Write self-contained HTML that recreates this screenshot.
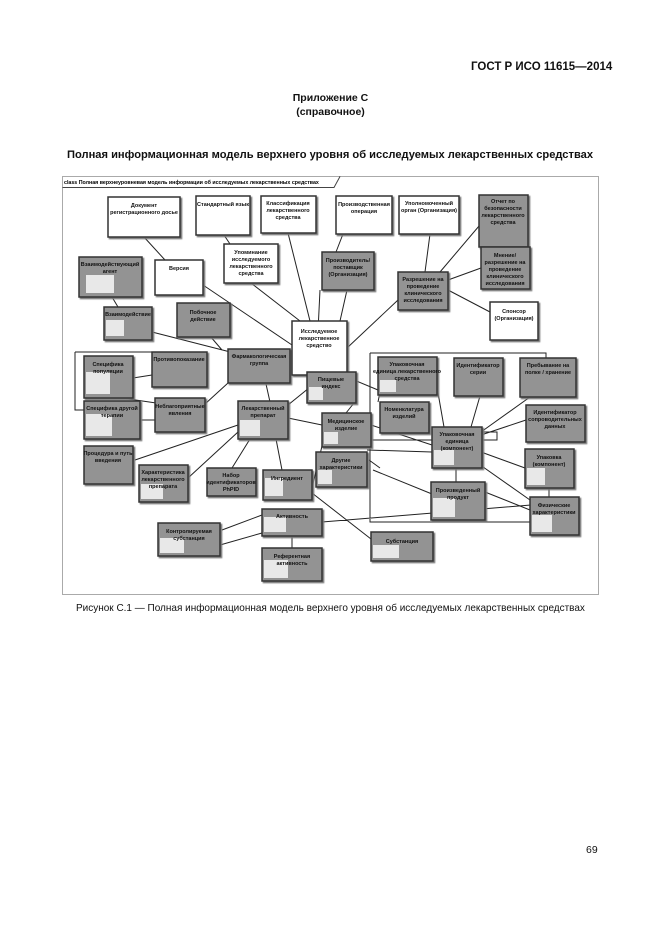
<!DOCTYPE html>
<html><head><meta charset="utf-8"><style>
body{margin:0;background:#fff;}
.pg{position:relative;width:661px;height:936px;background:#fff;font-family:"Liberation Sans",sans-serif;color:#111;overflow:hidden}
.t{position:absolute;white-space:nowrap}
</style></head><body><div class="pg">
<div class="t" style="left:471px;top:61px;font-size:11.5px;font-weight:bold">ГОСТ Р ИСО 11615—2014</div>
<div class="t" style="left:0;width:661px;text-align:center;top:91px;font-size:10.5px;font-weight:bold;line-height:14px">Приложение С<br>(справочное)</div>
<div class="t" style="left:67px;top:149px;font-size:11.3px;font-weight:bold;transform-origin:0 0;transform:scaleX(0.985)">Полная информационная модель верхнего уровня об исследуемых лекарственных средствах</div>
<div class="t" style="left:76px;top:603px;font-size:10.3px;transform-origin:0 0;transform:scaleX(0.97)">Рисунок С.1 — Полная информационная модель верхнего уровня об исследуемых лекарственных средствах</div>
<div class="t" style="left:586px;top:844px;font-size:10.5px">69</div>
<svg width="661" height="936" style="position:absolute;left:0;top:0" font-family="Liberation Sans, sans-serif" font-size="5.5" font-weight="bold" text-anchor="middle">
<defs><filter id="sh" x="-10%" y="-10%" width="130%" height="130%"><feDropShadow dx="1.5" dy="1.5" stdDeviation="0.4" flood-color="#777"/></filter></defs>
<rect x="62.5" y="176.5" width="536" height="418" fill="none" stroke="#555" stroke-dasharray="1 1"/>
<path d="M62.5 187.5H334l6-11" fill="none" stroke="#444"/>
<text x="64" y="184" text-anchor="start" font-size="5.3">class Полная верхнеуровневая модель информации об исследуемых лекарственных средствах</text>
<g stroke="#222" stroke-width="1" fill="none">
<path d="M144 237L165 260M224 235L230 244M288 233L310 321M251 283L300 321M203 285L292 345M343 234L336 252M347 290L340 321M320 290L316 372M430 234L425 272M112 297L118 307M152 332L246 356M210 336L222 350M133 378L152 375M140 420L155 420M122 398L163 404M205 404L228 383M264 375L270 402M325 375L288 405M135 460L238 425M188 478L238 432M232 468L250 439M276 439L282 470M288 418L322 425M312 488L322 446M312 493L371 539M262 515L222 530M220 545L262 533M292 536L292 548M322 522L531 505M347 348L398 300M496 206L440 272M481 268L448 280M448 290L490 312M368 440L432 440M371 425L432 445M367 450L432 452M354 403L346 413M437 387L444 427M480 396L471 427M530 397L481 432M526 420L481 435M525 468L481 452M530 500L476 462M456 467L456 482M485 492L530 510M549 487L549 497M373 470L432 494M369 460L380 468M370 353H546V358M370 353V522H530M378 402L380 392M342 375L378 390M75 352V410H84M75 352H152"/>
<rect x="481" y="432" width="16" height="8"/>
</g>
<g stroke="#333" stroke-width="1.5" filter="url(#sh)">
<g fill="#fff">
<rect x="108" y="197" width="72" height="40"/><rect x="196" y="196" width="54" height="39"/><rect x="261" y="196" width="55" height="37"/><rect x="336" y="196" width="56" height="38"/><rect x="399" y="196" width="60" height="38"/><rect x="224" y="244" width="54" height="39"/><rect x="155" y="260" width="48" height="35"/><rect x="490" y="302" width="48" height="38"/><rect x="292" y="321" width="55" height="54"/>
</g>
<g fill="#939393">
<rect x="479" y="195" width="49" height="52"/><rect x="79" y="257" width="63" height="40"/><rect x="322" y="252" width="52" height="38"/><rect x="398" y="272" width="50" height="38"/><rect x="481" y="247" width="49" height="42"/><rect x="104" y="307" width="48" height="33"/><rect x="177" y="303" width="53" height="34"/><rect x="228" y="349" width="62" height="34"/><rect x="152" y="352" width="55" height="35"/><rect x="84" y="356" width="49" height="42"/><rect x="84" y="401" width="56" height="38"/><rect x="155" y="398" width="50" height="34"/><rect x="238" y="401" width="50" height="38"/><rect x="84" y="446" width="49" height="38"/><rect x="139" y="465" width="49" height="37"/><rect x="207" y="468" width="49" height="28"/><rect x="263" y="470" width="49" height="30"/><rect x="158" y="523" width="62" height="33"/><rect x="262" y="509" width="60" height="27"/><rect x="262" y="548" width="60" height="33"/><rect x="307" y="372" width="49" height="31"/><rect x="322" y="413" width="49" height="34"/><rect x="316" y="452" width="51" height="35"/><rect x="371" y="532" width="62" height="29"/><rect x="378" y="357" width="59" height="38"/><rect x="454" y="358" width="49" height="38"/><rect x="520" y="358" width="56" height="39"/><rect x="380" y="402" width="49" height="31"/><rect x="432" y="427" width="50" height="41"/><rect x="526" y="405" width="59" height="37"/><rect x="525" y="449" width="49" height="39"/><rect x="431" y="482" width="54" height="38"/><rect x="530" y="497" width="49" height="38"/>
</g></g>
<g fill="#e8e8e8">
<rect x="86" y="275" width="28" height="18"/><rect x="106" y="320" width="18" height="16"/><rect x="86" y="372" width="24" height="22"/><rect x="86" y="414" width="26" height="22"/><rect x="240" y="420" width="20" height="16"/><rect x="141" y="484" width="22" height="15"/><rect x="265" y="478" width="18" height="18"/><rect x="160" y="538" width="24" height="15"/><rect x="264" y="517" width="22" height="15"/><rect x="264" y="560" width="24" height="18"/><rect x="373" y="545" width="26" height="13"/><rect x="434" y="450" width="20" height="15"/><rect x="433" y="498" width="22" height="19"/><rect x="532" y="515" width="20" height="17"/><rect x="527" y="468" width="18" height="17"/><rect x="309" y="387" width="14" height="13"/><rect x="324" y="432" width="14" height="12"/><rect x="318" y="470" width="14" height="14"/><rect x="380" y="380" width="16" height="12"/>
</g>
<g fill="#111">
<text x="144" y="207">Документ</text><text x="144" y="214">регистрационного досье</text>
<text x="223" y="206">Стандартный язык</text>
<text x="288" y="205">Классификация</text><text x="288" y="212">лекарственного</text><text x="288" y="219">средства</text>
<text x="364" y="206">Производственная</text><text x="364" y="213">операция</text>
<text x="429" y="205">Уполномоченный</text><text x="429" y="212">орган (Организация)</text>
<text x="503" y="203">Отчет по</text><text x="503" y="210">безопасности</text><text x="503" y="217">лекарственного</text><text x="503" y="224">средства</text>
<text x="251" y="254">Упоминание</text><text x="251" y="261">исследуемого</text><text x="251" y="268">лекарственного</text><text x="251" y="275">средства</text>
<text x="179" y="270">Версия</text>
<text x="110" y="266">Взаимодействующий</text><text x="110" y="273">агент</text>
<text x="348" y="262">Производитель/</text><text x="348" y="269">поставщик</text><text x="348" y="276">(Организация)</text>
<text x="423" y="281">Разрешение на</text><text x="423" y="288">проведение</text><text x="423" y="295">клинического</text><text x="423" y="302">исследования</text>
<text x="505" y="257">Мнение/</text><text x="505" y="264">разрешение на</text><text x="505" y="271">проведение</text><text x="505" y="278">клинического</text><text x="505" y="285">исследования</text>
<text x="514" y="313">Спонсор</text><text x="514" y="320">(Организация)</text>
<text x="128" y="316">Взаимодействие</text>
<text x="203" y="314">Побочное</text><text x="203" y="321">действие</text>
<text x="319" y="333">Исследуемое</text><text x="319" y="340">лекарственное</text><text x="319" y="347">средство</text>
<text x="259" y="358">Фармакологическая</text><text x="259" y="365">группа</text>
<text x="179" y="361">Противопоказание</text>
<text x="108" y="366">Специфика</text><text x="108" y="373">популяции</text>
<text x="112" y="410">Специфика другой</text><text x="112" y="417">терапии</text>
<text x="180" y="408">Неблагоприятные</text><text x="180" y="415">явления</text>
<text x="263" y="410">Лекарственный</text><text x="263" y="417">препарат</text>
<text x="108" y="455">Процедура и путь</text><text x="108" y="462">введения</text>
<text x="163" y="474">Характеристика</text><text x="163" y="481">лекарственного</text><text x="163" y="488">препарата</text>
<text x="231" y="477">Набор</text><text x="231" y="484">идентификаторов</text><text x="231" y="491">PhPID</text>
<text x="287" y="480">Ингредиент</text>
<text x="189" y="533">Контролируемая</text><text x="189" y="540">субстанция</text>
<text x="292" y="518">Активность</text>
<text x="292" y="558">Референтная</text><text x="292" y="565">активность</text>
<text x="331" y="381">Пищевые</text><text x="331" y="388">индекс</text>
<text x="346" y="423">Медицинское</text><text x="346" y="430">изделие</text>
<text x="341" y="462">Другие</text><text x="341" y="469">характеристики</text>
<text x="402" y="543">Субстанция</text>
<text x="407" y="366">Упаковочная</text><text x="407" y="373">единица лекарственного</text><text x="407" y="380">средства</text>
<text x="478" y="367">Идентификатор</text><text x="478" y="374">серии</text>
<text x="548" y="367">Пребывание на</text><text x="548" y="374">полке / хранение</text>
<text x="404" y="411">Номенклатура</text><text x="404" y="418">изделий</text>
<text x="457" y="436">Упаковочная</text><text x="457" y="443">единица</text><text x="457" y="450">(компонент)</text>
<text x="555" y="414">Идентификатор</text><text x="555" y="421">сопроводительных</text><text x="555" y="428">данных</text>
<text x="549" y="459">Упаковка</text><text x="549" y="466">(компонент)</text>
<text x="458" y="492">Произведенный</text><text x="458" y="499">продукт</text>
<text x="554" y="507">Физические</text><text x="554" y="514">характеристики</text>
</g>
</svg>
</div></body></html>
